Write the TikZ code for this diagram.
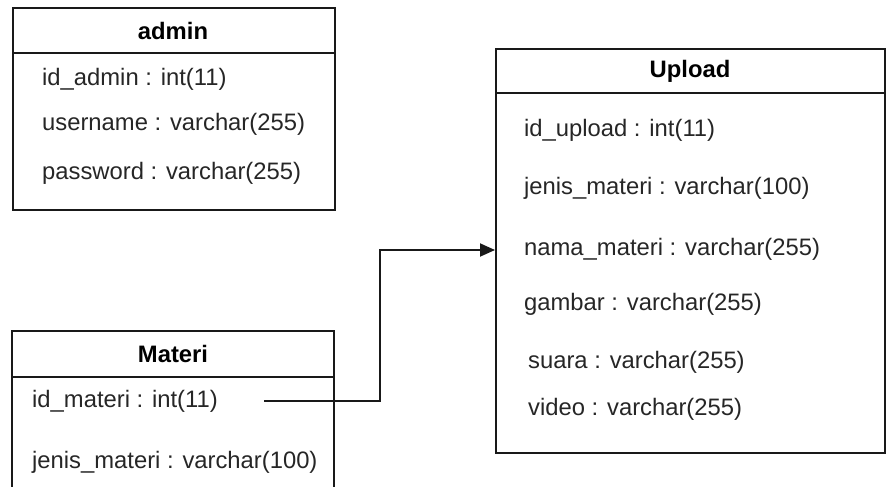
\documentclass[tikz,border=0pt]{standalone}
\usepackage{fontspec}
\setmainfont{Liberation Sans}
\usetikzlibrary{arrows.meta}
\begin{document}
\begin{tikzpicture}[x=1pt,y=-1pt,
  box/.style={draw=black!90,line width=1.9pt,rectangle,inner sep=0pt},
  sep/.style={draw=black!90,line width=1.9pt},
  field/.style={anchor=west,inner sep=0pt,text=black!85,font=\fontsize{23.8}{27}\selectfont},
  title/.style={inner sep=0pt,font=\fontsize{23.8}{27}\selectfont\bfseries},
  conn/.style={draw=black!90,line width=1.9pt,-{Triangle[length=15pt,width=13pt]}}]
\useasboundingbox (0,0) rectangle (886,487);
% admin
\node[box,minimum width=322pt,minimum height=202pt,anchor=north west] (adminbox) at (12,7) {};
\draw[sep] (12,53) -- (334,53);
\node[title] (admint) at (173,31) {admin};
\node[field] (a1) at (42,79) {id\_admin : int(11)};
\node[field] (a2) at (42,124) {username : varchar(255)};
\node[field] (a3) at (42,173) {password : varchar(255)};
% Materi
\draw[sep] (12,492) -- (12,331) -- (334,331) -- (334,492);
\draw[sep] (12,377) -- (334,377);
\node[title] (materit) at (173,354) {Materi};
\node[field] (m1) at (32,401) {id\_materi : int(11)};
\node[field] (m2) at (32,462) {jenis\_materi : varchar(100)};
% Upload
\node[box,minimum width=389pt,minimum height=404pt,anchor=north west] (upbox) at (495,48) {};
\draw[sep] (495,93) -- (884,93);
\node[title] (uploadt) at (690,71) {Upload};
\node[field] (u1) at (524,130) {id\_upload : int(11)};
\node[field] (u2) at (524,188) {jenis\_materi : varchar(100)};
\node[field] (u3) at (524,249) {nama\_materi : varchar(255)};
\node[field] (u4) at (524,304) {gambar : varchar(255)};
\node[field] (u5) at (528,362) {suara : varchar(255)};
\node[field] (u6) at (528,409) {video : varchar(255)};
% connector
\coordinate (c0) at (264,401);
\coordinate (c1) at (380,401);
\draw[conn] (c0) -- (c1) |- (upbox.west |- 0,250);
\end{tikzpicture}
\end{document}
